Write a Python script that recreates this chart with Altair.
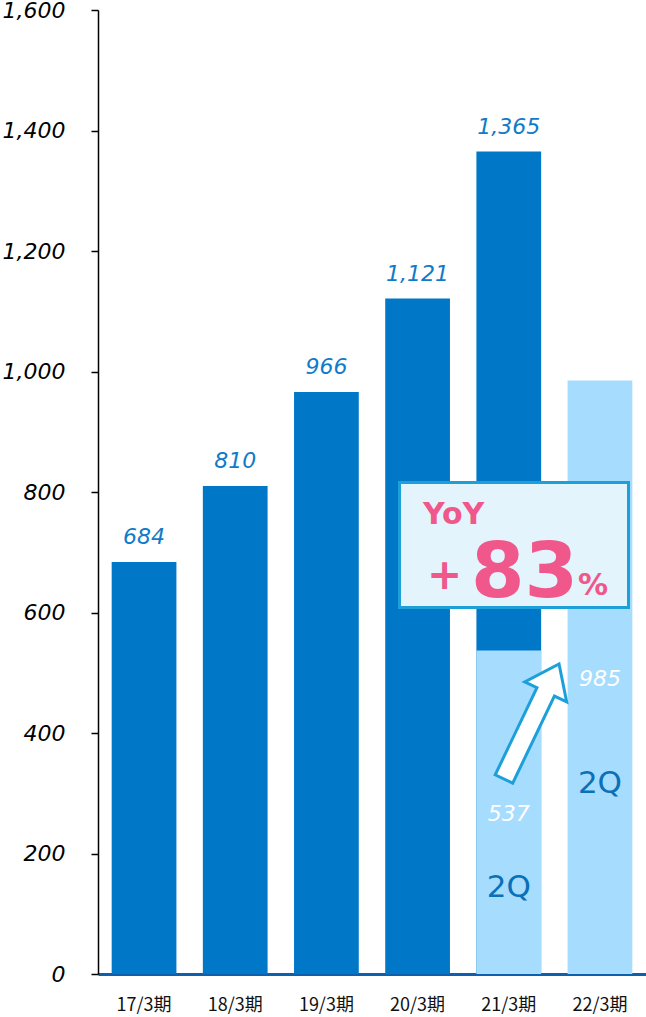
import altair as alt
import pandas as pd

categories = ["17/3期", "18/3期", "19/3期", "20/3期", "21/3期", "22/3期"]
full_year = [684, 810, 966, 1121, 1365]
full_cats = categories[:5]
q2_cats = ["21/3期", "22/3期"]
q2_values = [537, 985]
q2_label_y = [265, 489]
q2_tag_y = [143, 315]
y_ticks = [0, 200, 400, 600, 800, 1000, 1200, 1400, 1600]

DARK = "#0077C7"
LIGHT = "#A6DCFE"
PINK = "#F0578A"
BOXLINE = "#1DA0DA"

full_df = pd.DataFrame({"cat": full_cats, "v": full_year})
q2_df = pd.DataFrame({"cat": q2_cats, "v": q2_values, "ly": q2_label_y, "ty": q2_tag_y})
one = pd.DataFrame({"a": [0]})

xs = alt.Scale(domain=categories, paddingInner=0.29, paddingOuter=0.15)
ys = alt.Scale(domain=[0, 1600], nice=False)

x_enc = alt.X("cat:N", scale=xs, title=None, sort=categories,
              axis=alt.Axis(labelAngle=0, ticks=False, tickSize=0, domainColor="#0F5FAF",
                            domainWidth=3, labelFont="Noto Sans CJK JP", labelFontSize=18,
                            labelColor="#111111", labelPadding=22))
y_enc = alt.Y("v:Q", scale=ys, title=None,
              axis=alt.Axis(values=y_ticks, format=",.0f", grid=False, labelFont="DejaVu Sans",
                            labelFontStyle="italic", labelFontSize=22, labelColor="black",
                            tickColor="black", tickSize=7, tickWidth=1.5, domainColor="black",
                            domainWidth=1.5, labelPadding=26))

dark = alt.Chart(full_df).mark_bar(color=DARK).encode(x=x_enc, y=y_enc)
light = alt.Chart(q2_df).mark_bar(color=LIGHT).encode(
    x=alt.X("cat:N", scale=xs, sort=categories), y=alt.Y("v:Q", scale=ys))

top_labels = alt.Chart(full_df).mark_text(
    font="DejaVu Sans", fontStyle="italic", fontSize=22, color="#0E7CC9",
    baseline="alphabetic", dy=-18).encode(
    x=alt.X("cat:N", scale=xs, sort=categories), y=alt.Y("v:Q", scale=ys),
    text=alt.Text("v:Q", format=",.0f"))

q2_labels = alt.Chart(q2_df).mark_text(
    font="DejaVu Sans", fontStyle="italic", fontSize=22, color="white",
    baseline="middle").encode(
    x=alt.X("cat:N", scale=xs, sort=categories), y=alt.Y("ly:Q", scale=ys),
    text=alt.Text("v:Q", format=",.0f"))

q2_tags = alt.Chart(q2_df).mark_text(
    font="DejaVu Sans", fontSize=31, color="#0A70B8", baseline="middle", text="2Q").encode(
    x=alt.X("cat:N", scale=xs, sort=categories), y=alt.Y("ty:Q", scale=ys))

box = alt.Chart(one).mark_rect(fill="#E4F4FC", stroke=BOXLINE, strokeWidth=3).encode(
    x=alt.value(301.5), x2=alt.value(530.5), y=alt.value(472.5), y2=alt.value(597.5))

yoy = alt.Chart(one).mark_text(text="YoY", font="DejaVu Sans", fontWeight="bold",
                               fontSize=30, color=PINK, align="left",
                               baseline="alphabetic").encode(
    x=alt.value(325), y=alt.value(514))
plus = alt.Chart(one).mark_text(text="+", font="DejaVu Sans", fontWeight="bold",
                                fontSize=42, color=PINK, align="center",
                                baseline="middle").encode(
    x=alt.value(346.5), y=alt.value(566))
pct = alt.Chart(one).mark_text(text="83", font="DejaVu Sans", fontWeight="bold",
                               fontSize=77, color=PINK, align="left",
                               baseline="alphabetic").encode(
    x=alt.value(373), y=alt.value(587))
pct_sign = alt.Chart(one).mark_text(text="%", font="DejaVu Sans", fontWeight="bold",
                                    fontSize=30, color=PINK, align="left",
                                    baseline="alphabetic").encode(
    x=alt.value(480), y=alt.value(585))

arrow_path = ("M0,-1 L0.365,-0.515 L0.152,-0.515 L0.152,1 L-0.152,1 "
              "L-0.152,-0.515 L-0.365,-0.515 Z")
arrow = alt.Chart(one).mark_point(shape=arrow_path, size=16256, angle=25.6, filled=True,
                                  fill="white", stroke=BOXLINE, strokeWidth=3,
                                  opacity=1).encode(
    x=alt.value(433.5), y=alt.value(711.5))

chart = alt.layer(dark, light, top_labels, q2_labels, q2_tags, box, yoy, plus, pct,
                  pct_sign, arrow).properties(
    width=548, height=964,
    background="white",
    autosize=alt.AutoSizeParams(type="none"),
    padding={"left": 98, "top": 10, "right": 0, "bottom": 43},
).configure_view(stroke=None, strokeWidth=0)

chart.save("out.html", embed_options={"renderer": "svg", "actions": False})
